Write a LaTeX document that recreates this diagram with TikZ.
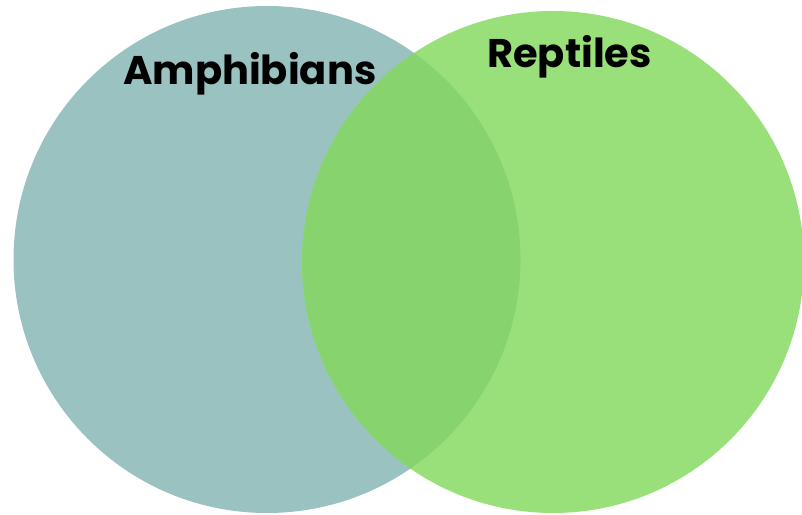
\documentclass[tikz,border=0pt]{standalone}
\usepackage{fontspec}
\setmainfont{Poppins}
\definecolor{amphib}{HTML}{99C2C1}
\definecolor{rept}{HTML}{99E07B}
\definecolor{both}{HTML}{87D46E}
\begin{document}
\begin{tikzpicture}[x=1pt,y=1pt,
  lbl/.style={font=\fontsize{40}{48}\selectfont\bfseries, text=black, inner sep=0pt, anchor=base west}]
\useasboundingbox (0,0) rectangle (802,514);
\clip (0,0) rectangle (802,514);
\coordinate (cl) at (267,254.5);
\coordinate (cr) at (553,252);
\fill[amphib] (cl) circle (253.5);
\fill[rept] (cr) circle (251);
\begin{scope}
  \clip (cl) circle (253.5);
  \fill[both] (cr) circle (251);
\end{scope}
\node[lbl] (a) at (123,429) {Amphibians};
\node[lbl] (r) at (487,446) {Reptiles};
\end{tikzpicture}
\end{document}
